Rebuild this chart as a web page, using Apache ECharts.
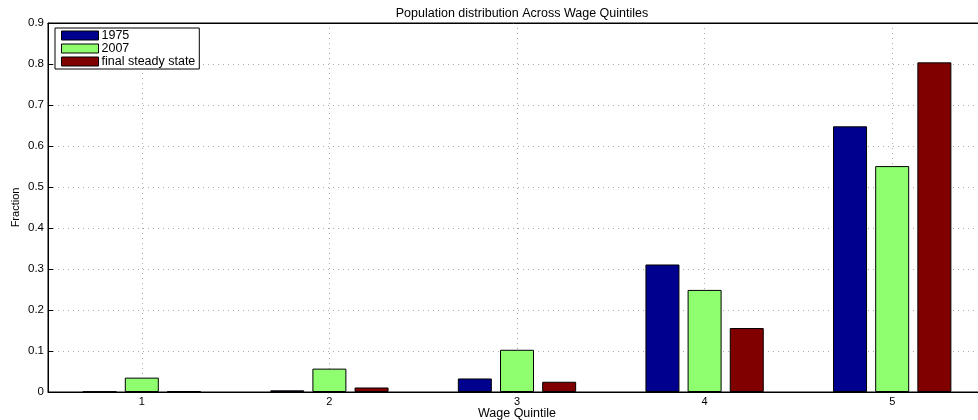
<!DOCTYPE html>
<html>
<head>
<meta charset="utf-8">
<script src="https://cdn.jsdelivr.net/npm/echarts@6/dist/echarts.min.js"></script>
<style>
html,body{margin:0;padding:0;background:#fff;overflow:hidden;}
#main{width:978px;height:420px;}
</style>
</head>
<body>
<div id="main"></div>
<script>
var quintiles = ['1', '2', '3', '4', '5'];
var v1975 = [0.001, 0.004, 0.033, 0.311, 0.648];
var v2007 = [0.035, 0.057, 0.103, 0.249, 0.551];
var vFinal = [0.002, 0.011, 0.025, 0.156, 0.804];
var yTicks = [0, 0.1, 0.2, 0.3, 0.4, 0.5, 0.6, 0.7, 0.8, 0.9];

var fontName = 'Liberation Sans';
var myChart = echarts.init(document.getElementById('main'));

function barSeries(name, data, color) {
    return {
        name: name,
        type: 'bar',
        data: data,
        barWidth: 34,
        barGap: '24%',
        itemStyle: { color: color, borderColor: '#000', borderWidth: 1 }
    };
}

var option = {
    animation: false,
    backgroundColor: '#fff',
    title: {
        text: 'Population distribution Across Wage Quintiles',
        left: 517, top: 2, textAlign: 'center',
        textStyle: { fontFamily: fontName, fontSize: 12.5, fontWeight: 'normal', color: '#000' }
    },
    legend: {
        orient: 'vertical',
        left: 55, top: 28,
        icon: 'rect',
        itemWidth: 37, itemHeight: 9, itemGap: 0,
        padding: [1, 4, 1, 6],
        borderColor: '#000', borderWidth: 1,
        backgroundColor: '#fff',
        itemStyle: { borderColor: '#000', borderWidth: 1 },
        textStyle: { fontFamily: fontName, fontSize: 12.5, color: '#000', padding: [0, 0, 0, -2] },
        data: ['1975', '2007', 'final steady state']
    },
    grid: {
        left: 48, width: 938, top: 23, bottom: 28,
        outerBoundsMode: 'none',
        containLabel: false,
        show: true, borderColor: '#000', borderWidth: 1
    },
    xAxis: [{
        type: 'category',
        data: quintiles,
        name: 'Wage Quintile',
        nameLocation: 'middle',
        nameMoveOverlap: false,
        nameGap: 15,
        nameTextStyle: { fontFamily: fontName, fontSize: 12.5, color: '#000' },
        axisLine: { lineStyle: { color: '#000' } },
        axisTick: { alignWithLabel: true, inside: true, length: 5, lineStyle: { color: '#000' } },
        axisLabel: { fontFamily: fontName, fontSize: 11, color: '#000', margin: 4 },
        splitLine: { show: true, alignWithLabel: true, lineStyle: { color: '#aaa', type: [1, 4] } }
    }, {
        type: 'category',
        data: quintiles,
        position: 'top',
        axisLine: { lineStyle: { color: '#000' } },
        axisTick: { alignWithLabel: true, inside: true, length: 5, lineStyle: { color: '#000' } },
        axisLabel: { show: false },
        splitLine: { show: false }
    }],
    yAxis: {
        type: 'value',
        min: 0, max: 0.9, interval: 0.1,
        name: 'Fraction',
        nameLocation: 'middle',
        nameMoveOverlap: false,
        nameGap: 27,
        nameRotate: 90,
        nameTextStyle: { fontFamily: fontName, fontSize: 11, color: '#000' },
        axisLine: { show: true, lineStyle: { color: '#000' } },
        axisTick: { show: true, inside: true, length: 5, lineStyle: { color: '#000' } },
        axisLabel: {
            fontFamily: fontName, fontSize: 11.5, color: '#000', margin: 4,
            formatter: function (v) {
                var t = yTicks.filter(function (x) { return Math.abs(x - v) < 1e-9; });
                return t.length ? String(Math.round(t[0] * 10) / 10) : '';
            }
        },
        splitLine: { show: true, lineStyle: { color: '#aaa', type: [1, 4] } }
    },
    series: [
        barSeries('1975', v1975, '#00008f'),
        barSeries('2007', v2007, '#8fff70'),
        barSeries('final steady state', vFinal, '#800000')
    ]
};

myChart.setOption(option);
</script>
</body>
</html>
